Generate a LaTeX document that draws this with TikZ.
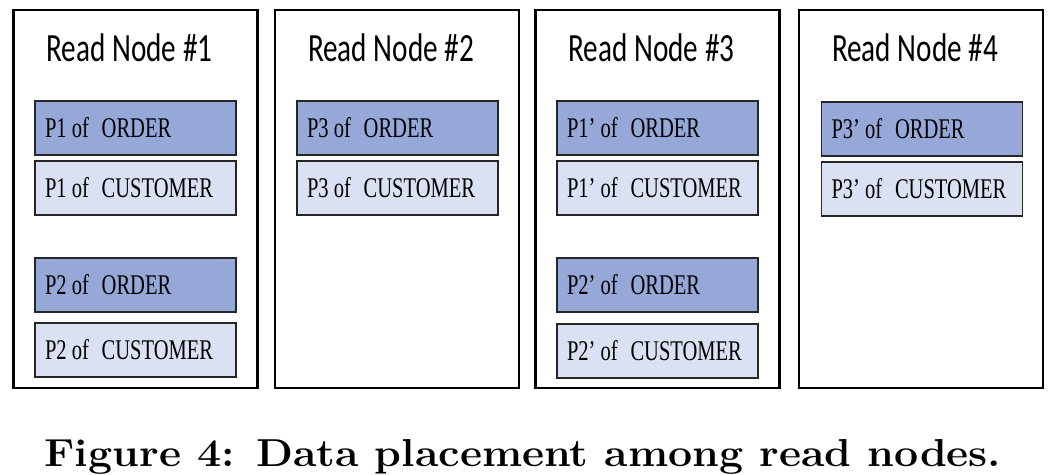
\documentclass[tikz,border=0pt]{standalone}
\usepackage{fontspec}
\newfontfamily\titlefont[FakeStretch=0.73]{Carlito}
\newfontfamily\boxfont[FakeStretch=0.72]{Liberation Serif}
\newfontfamily\capfont[FakeStretch=1.1]{Latin Modern Roman}
\definecolor{ordfill}{HTML}{95A8D8}
\definecolor{custfill}{HTML}{DAE1F2}
\newcommand{\wsp}{\hspace{0.45em}}
\tikzset{
  readnode/.style={draw=black, line width=2.5pt, minimum width=244pt, minimum height=378pt, inner sep=0pt},
  rntitle/.style={anchor=base, font=\titlefont\fontsize{40}{44}\selectfont, inner sep=0pt},
  part/.style={draw=black!85, line width=1.5pt, minimum width=201pt, minimum height=54pt,
    text width=181pt, inner xsep=10pt, inner ysep=0pt, align=flush left,
    font=\boxfont\fontsize{28.5}{32}\selectfont},
  ordbox/.style={part, fill=ordfill},
  custbox/.style={part, fill=custfill},
}
\begin{document}
\begin{tikzpicture}[x=1pt, y=-1pt]
\useasboundingbox (0,0) rectangle (1052,474);
% read nodes
\node[readnode] (rn1) at (135.5,199) {};
\node[readnode] (rn2) at (397,199) {};
\node[readnode] (rn3) at (657.5,199) {};
\node[readnode] (rn4) at (921,199) {};
% titles
\node[rntitle] (t1) at (129.5,61) {Read Node \#1};
\node[rntitle] (t2) at (391,61) {Read Node \#2};
\node[rntitle] (t3) at (651.5,61) {Read Node \#3};
\node[rntitle] (t4) at (915,61) {Read Node \#4};
% node 1
\node[ordbox]  (o1)  at (135.5,128) {\mbox{P1 of\wsp ORDER}};
\node[custbox] (c1)  at (135.5,188) {\mbox{P1 of\wsp CUSTOMER}};
\node[ordbox]  (o2)  at (135.5,285) {\mbox{P2 of\wsp ORDER}};
\node[custbox] (c2)  at (135.5,350) {\mbox{P2 of\wsp CUSTOMER}};
% node 2
\node[ordbox]  (o3)  at (397.5,128) {\mbox{P3 of\wsp ORDER}};
\node[custbox] (c3)  at (397.5,188) {\mbox{P3 of\wsp CUSTOMER}};
% node 3
\node[ordbox]  (o1p) at (657.5,128) {\mbox{P1’ of\wsp ORDER}};
\node[custbox] (c1p) at (657.5,188) {\mbox{P1’ of\wsp CUSTOMER}};
\node[ordbox]  (o2p) at (657.5,285) {\mbox{P2’ of\wsp ORDER}};
\node[custbox] (c2p) at (657.5,351) {\mbox{P2’ of\wsp CUSTOMER}};
% node 4
\node[ordbox]  (o3p) at (922,129) {\mbox{P3’ of\wsp ORDER}};
\node[custbox] (c3p) at (922,189) {\mbox{P3’ of\wsp CUSTOMER}};
% caption
\node[anchor=base, inner sep=0pt, font=\capfont\fontsize{39}{44}\selectfont\bfseries] (cap) at (523,466) {Figure 4: Data placement among read nodes.};
\end{tikzpicture}
\end{document}
